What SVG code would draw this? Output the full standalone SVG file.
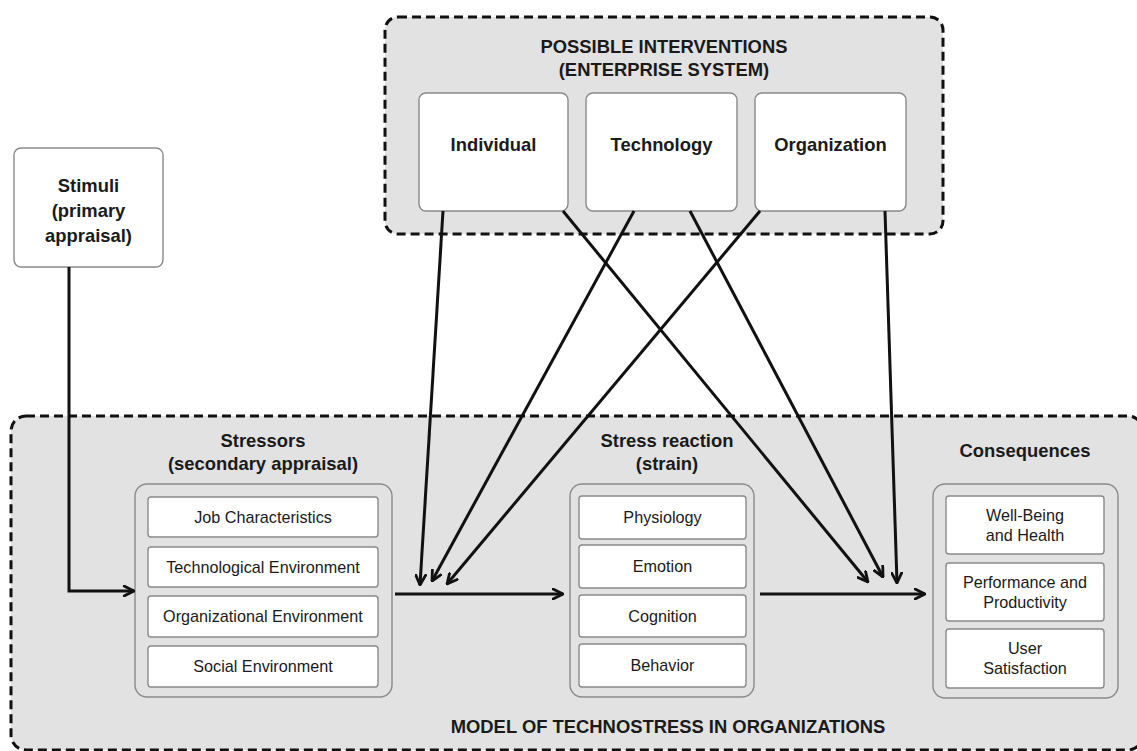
<svg xmlns="http://www.w3.org/2000/svg" width="1137" height="751" viewBox="0 0 1137 751">
  <defs>
    <style>
      .frame { fill: #e2e2e2; stroke: #111; stroke-width: 3; stroke-dasharray: 9 5; }
      .group { fill: #e2e2e2; stroke: #8a8a8a; stroke-width: 1.4; }
      .card { fill: #fff; stroke: #8a8a8a; stroke-width: 1.4; }
      .title { font-family: "Liberation Sans", Arial, sans-serif; font-weight: bold; font-size: 18.4px; fill: #1a1a1a; text-anchor: middle; }
      .label { font-family: "Liberation Sans", Arial, sans-serif; font-size: 16.2px; fill: #1a1a1a; text-anchor: middle; }
      .link { fill: none; stroke: #111; stroke-width: 3; marker-end: url(#arrow); }
    </style>
    <marker id="arrow" viewBox="0 0 12 12" refX="11" refY="6" markerWidth="12" markerHeight="12" markerUnits="userSpaceOnUse" orient="auto">
      <path d="M1,1 L11,6 L1,11" fill="none" stroke="#111" stroke-width="2.8" stroke-linecap="round" stroke-linejoin="round"/>
    </marker>
  </defs>
  <rect width="1137" height="751" fill="#fff"/>

  <!-- intervention frame -->
  <g id="interventions">
    <rect class="frame" x="385" y="17" width="558" height="217" rx="13"/>
    <text class="title" x="664" y="53">POSSIBLE INTERVENTIONS</text>
    <text class="title" x="664" y="76">(ENTERPRISE SYSTEM)</text>
  </g>
  <g id="individual">
    <rect class="card" x="419" y="93" width="149" height="118" rx="7"/>
    <text class="title" x="493.5" y="151">Individual</text>
  </g>
  <g id="technology">
    <rect class="card" x="586" y="93" width="151" height="118" rx="7"/>
    <text class="title" x="661.5" y="151">Technology</text>
  </g>
  <g id="organization">
    <rect class="card" x="755" y="93" width="151" height="118" rx="7"/>
    <text class="title" x="830.5" y="151">Organization</text>
  </g>

  <!-- stimuli -->
  <g id="stimuli">
    <rect class="card" x="14" y="148" width="149" height="119" rx="7"/>
    <text class="title" x="88.5" y="192">Stimuli</text>
    <text class="title" x="88.5" y="217">(primary</text>
    <text class="title" x="88.5" y="242">appraisal)</text>
  </g>

  <!-- model frame -->
  <g id="model">
    <rect class="frame" x="11" y="416" width="1132" height="334" rx="15"/>
    <text class="title" x="668" y="733">MODEL OF TECHNOSTRESS IN ORGANIZATIONS</text>
  </g>

  <g id="stressors">
    <text class="title" x="263" y="447">Stressors</text>
    <text class="title" x="263" y="470">(secondary appraisal)</text>
    <rect class="group" x="135" y="484" width="257" height="213" rx="12"/>
    <rect class="card" x="148" y="497" width="230" height="40" rx="3"/>
    <text class="label" x="263" y="522.5">Job Characteristics</text>
    <rect class="card" x="148" y="547" width="230" height="40" rx="3"/>
    <text class="label" x="263" y="572.5">Technological Environment</text>
    <rect class="card" x="148" y="596" width="230" height="41" rx="3"/>
    <text class="label" x="263" y="622">Organizational Environment</text>
    <rect class="card" x="148" y="646" width="230" height="41" rx="3"/>
    <text class="label" x="263" y="672">Social Environment</text>
  </g>

  <g id="stress-reaction">
    <text class="title" x="667" y="447">Stress reaction</text>
    <text class="title" x="667" y="470">(strain)</text>
    <rect class="group" x="570" y="484" width="184" height="213" rx="12"/>
    <rect class="card" x="579" y="496" width="167" height="43" rx="3"/>
    <text class="label" x="662.5" y="523">Physiology</text>
    <rect class="card" x="579" y="545" width="167" height="43" rx="3"/>
    <text class="label" x="662.5" y="572">Emotion</text>
    <rect class="card" x="579" y="595" width="167" height="42" rx="3"/>
    <text class="label" x="662.5" y="621.5">Cognition</text>
    <rect class="card" x="579" y="644" width="167" height="43" rx="3"/>
    <text class="label" x="662.5" y="671">Behavior</text>
  </g>

  <g id="consequences">
    <text class="title" x="1025" y="457">Consequences</text>
    <rect class="group" x="933" y="484" width="185" height="214" rx="12"/>
    <rect class="card" x="946" y="496" width="158" height="58" rx="3"/>
    <text class="label" x="1025" y="521">Well-Being</text>
    <text class="label" x="1025" y="541">and Health</text>
    <rect class="card" x="946" y="563" width="158" height="58" rx="3"/>
    <text class="label" x="1025" y="588">Performance and</text>
    <text class="label" x="1025" y="608">Productivity</text>
    <rect class="card" x="946" y="629" width="158" height="59" rx="3"/>
    <text class="label" x="1025" y="654">User</text>
    <text class="label" x="1025" y="674">Satisfaction</text>
  </g>

  <!-- connectors -->
  <g id="connectors">
    <path class="link" d="M69,267 L69,591 L134,591"/>
    <path class="link" d="M395,594 L563,594"/>
    <path class="link" d="M760,594 L925,594"/>
    <path class="link" d="M443,211 L420,585"/>
    <path class="link" d="M634,211 L432,581"/>
    <path class="link" d="M760,211 L447,584"/>
    <path class="link" d="M563,211 L868,582"/>
    <path class="link" d="M690,211 L883,577"/>
    <path class="link" d="M885,211 L897,583"/>
  </g>
</svg>
